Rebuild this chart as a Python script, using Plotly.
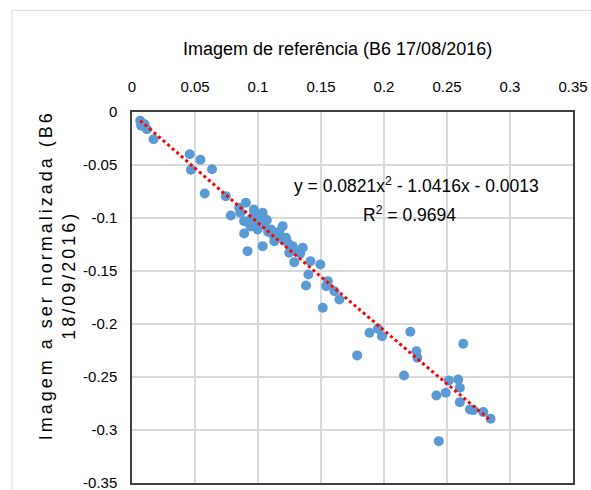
import numpy as np
import plotly.graph_objects as go

# Data
x_ref = [0.0065, 0.0073, 0.0100, 0.0118, 0.0171, 0.0458, 0.0543, 0.0468, 0.0635, 0.0577,
         0.0744, 0.0784, 0.0850, 0.0904, 0.0890, 0.0917, 0.1037, 0.0967, 0.1023, 0.0860,
         0.0970, 0.1037, 0.0890, 0.0997, 0.1050, 0.1103, 0.1196, 0.1156, 0.1236, 0.1248,
         0.1315, 0.1129, 0.1222, 0.1275, 0.1288, 0.1355, 0.1416, 0.1495, 0.1400, 0.1381,
         0.1554, 0.1541, 0.1607, 0.1646, 0.1514, 0.1885, 0.1952, 0.1984, 0.1787, 0.2209,
         0.2159, 0.2629, 0.2257, 0.2265, 0.2514, 0.2589, 0.2602, 0.2416, 0.2490, 0.2602,
         0.2682, 0.2709, 0.2788, 0.2846, 0.2435, 0.0950, 0.1000, 0.1080, 0.1170, 0.1200,
         0.0940, 0.1070, 0.1120, 0.1335]
y_norm = [-0.0083, -0.0130, -0.0115, -0.0162, -0.0257, -0.0398, -0.0451, -0.0545, -0.0540, -0.0769,
          -0.0794, -0.0976, -0.0904, -0.0857, -0.1146, -0.1313, -0.1266, -0.0920, -0.0983, -0.0950,
          -0.0936, -0.0951, -0.1030, -0.1108, -0.1061, -0.1108, -0.1077, -0.1172, -0.1234, -0.1328,
          -0.1313, -0.1219, -0.1187, -0.1266, -0.1417, -0.1281, -0.1408, -0.1439, -0.1533, -0.1637,
          -0.1596, -0.1643, -0.1691, -0.1769, -0.1847, -0.2083, -0.2045, -0.2115, -0.2297, -0.2074,
          -0.2486, -0.2187, -0.2257, -0.2319, -0.2533, -0.2524, -0.2602, -0.2675, -0.2649, -0.2738,
          -0.2807, -0.2813, -0.2832, -0.2894, -0.3106, -0.1000, -0.1040, -0.1130, -0.1130, -0.1200,
          -0.1080, -0.1020, -0.1160, -0.1335]

# Polynomial trendline coefficients (as printed on the chart)
coef_a, coef_b, coef_c = 0.0821, -1.0416, -0.0013
equation_text = "y = 0.0821x<sup>2</sup> - 1.0416x - 0.0013"
r2_text = "R<sup>2</sup> = 0.9694"

x_tickvals = [0, 0.05, 0.1, 0.15, 0.2, 0.25, 0.3, 0.35]
x_ticktext = ["0", "0.05", "0.1", "0.15", "0.2", "0.25", "0.3", "0.35"]
y_tickvals = [0, -0.05, -0.1, -0.15, -0.2, -0.25, -0.3, -0.35]
y_ticktext = ["0", "-0.05", "-0.1", "-0.15", "-0.2", "-0.25", "-0.3", "-0.35"]

x_title = "Imagem de referência (B6 17/08/2016)"
y_title_lines = ["Imagem a ser normalizada (B6", "18/09/2016)"]

FONT = "Liberation Sans, Arial, sans-serif"

xt = np.linspace(min(x_ref), max(x_ref), 200)
yt = coef_a * xt**2 + coef_b * xt + coef_c

fig = go.Figure()
fig.add_trace(go.Scatter(x=x_ref, y=y_norm, mode="markers",
                         marker=dict(color="#5B9BD5", size=10), showlegend=False))
fig.add_trace(go.Scatter(x=xt, y=yt, mode="lines",
                         line=dict(color="#FF0000", width=3, dash="dot"), showlegend=False))

fig.add_annotation(x=0.2257, y=-0.0685, xref="x", yref="y", text=equation_text,
                   showarrow=False, font=dict(size=17.5, color="#000000", family=FONT))
fig.add_annotation(x=0.2200, y=-0.0965, xref="x", yref="y", text=r2_text,
                   showarrow=False, font=dict(size=17.5, color="#000000", family=FONT))

# axis titles
fig.add_annotation(x=0.466, y=1.170, xref="paper", yref="paper", text=x_title,
                   showarrow=False, xanchor="center", yanchor="middle",
                   font=dict(size=18, color="#000000", family=FONT))
fig.add_annotation(x=-0.170, y=0.560, xref="paper", yref="paper",
                   text="<br>".join('<span style="letter-spacing:3px">%s</span>' % s
                                    for s in y_title_lines),
                   textangle=-90, showarrow=False, xanchor="center", yanchor="middle",
                   font=dict(size=18, color="#000000", family=FONT))

fig.add_shape(type="rect", xref="paper", yref="paper", x0=-0.272, x1=1.06, y0=-0.02, y1=1.274,
              line=dict(color="#D9D9D9", width=1))

fig.update_layout(
    width=591, height=490,
    margin=dict(l=132, r=18, t=112, b=7, autoexpand=False),
    paper_bgcolor="white", plot_bgcolor="white",
    font=dict(family=FONT, color="#000000", size=15),
    xaxis=dict(side="top", range=[0, 0.35], tickvals=x_tickvals, ticktext=x_ticktext,
               showgrid=True, gridcolor="#D9D9D9", gridwidth=1.5, zeroline=False,
               showline=True, linecolor="#404040", linewidth=1.5, mirror=True,
               ticks="", ticklabelstandoff=12, automargin=False, ticklabeloverflow="allow",
               tickfont=dict(size=15, color="#000000")),
    yaxis=dict(range=[-0.3501, 0], tickvals=y_tickvals, ticktext=y_ticktext,
               showgrid=True, gridcolor="#D9D9D9", gridwidth=1.5, zeroline=False,
               showline=True, linecolor="#404040", linewidth=1.5, mirror=True,
               ticks="", ticklabelstandoff=10, automargin=False, ticklabeloverflow="allow",
               tickfont=dict(size=15, color="#000000")),
)

fig.write_html("out.html", config={"displayModeBar": False},
               post_script="document.body.style.margin='0';document.body.style.overflow='hidden';")
